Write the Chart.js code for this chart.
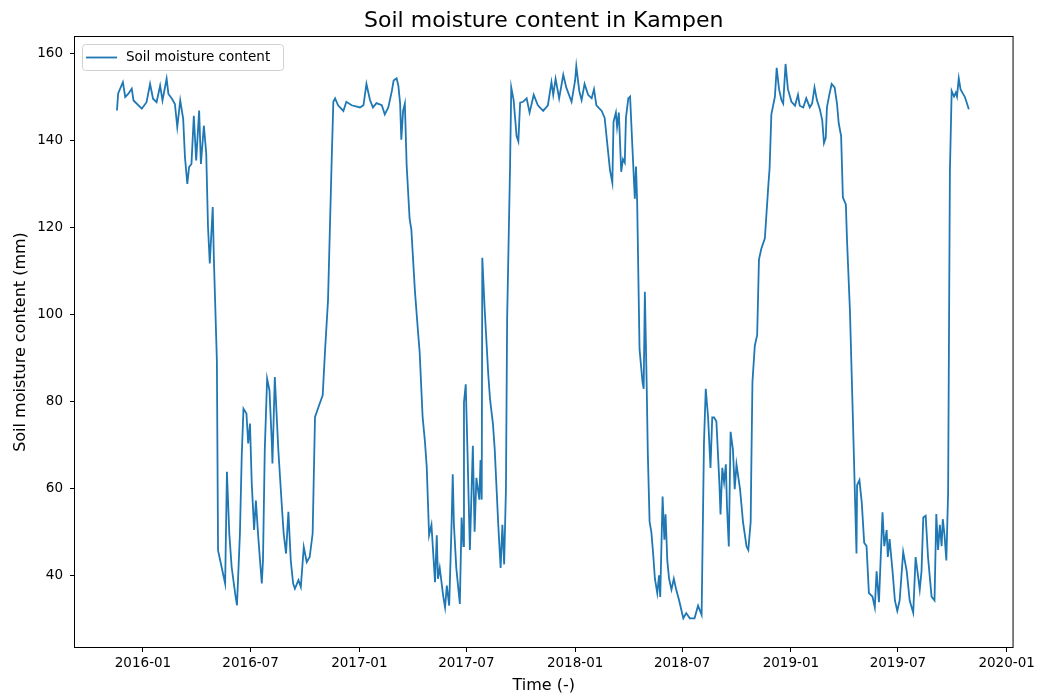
<!DOCTYPE html>
<html><head><meta charset="utf-8">
<script src="https://cdn.jsdelivr.net/npm/chart.js@4.4.1/dist/chart.umd.min.js"></script>
<style>html,body{margin:0;padding:0;background:#fff}#c{display:block}</style>
</head><body>
<canvas id="c" width="1038" height="695"></canvas>
<script>
const chartTitle = 'Soil moisture content in Kampen';
const seriesName = 'Soil moisture content';
const xAxisTitle = 'Time (-)';
const yAxisTitle = 'Soil moisture content (mm)';

const dates = [
'2015-11-18','2015-11-20','2015-11-28','2015-12-02','2015-12-07','2015-12-13','2015-12-16','2015-12-30','2016-01-07','2016-01-13',
'2016-01-18','2016-01-24','2016-01-30','2016-02-03','2016-02-10','2016-02-13','2016-02-19','2016-02-24','2016-02-28','2016-03-04',
'2016-03-09','2016-03-12','2016-03-16','2016-03-19','2016-03-23','2016-03-27','2016-03-31','2016-04-05','2016-04-08','2016-04-13',
'2016-04-17','2016-04-20','2016-04-23','2016-04-28','2016-04-30','2016-05-02','2016-05-05',
'2016-05-07','2016-05-13','2016-05-19','2016-05-22','2016-05-26','2016-05-30','2016-06-05','2016-06-08','2016-06-13','2016-06-16',
'2016-06-19','2016-06-24','2016-06-27','2016-06-30','2016-07-03','2016-07-07','2016-07-10','2016-07-14','2016-07-17','2016-07-20',
'2016-07-22','2016-07-25','2016-07-29','2016-08-02','2016-08-06','2016-08-07','2016-08-11','2016-08-17','2016-08-23','2016-08-26',
'2016-08-30','2016-09-03','2016-09-07','2016-09-11','2016-09-14','2016-09-20','2016-09-24','2016-09-29','2016-10-04','2016-10-09',
'2016-10-14','2016-10-18','2016-10-26','2016-10-31','2016-11-04','2016-11-09','2016-11-15','2016-11-18',
'2016-11-21','2016-11-26','2016-12-05','2016-12-10','2016-12-19','2017-01-02','2017-01-08','2017-01-13','2017-01-19','2017-01-24',
'2017-01-30','2017-02-08','2017-02-13','2017-02-19','2017-02-25','2017-02-28','2017-03-05','2017-03-08','2017-03-11','2017-03-13',
'2017-03-16','2017-03-19','2017-03-22','2017-03-27','2017-03-30','2017-04-05','2017-04-11','2017-04-13','2017-04-18','2017-04-22',
'2017-04-25','2017-04-29','2017-05-03','2017-05-06','2017-05-09','2017-05-12','2017-05-14','2017-05-17','2017-05-23','2017-05-26',
'2017-05-29','2017-06-02','2017-06-06','2017-06-08','2017-06-10','2017-06-14','2017-06-20','2017-06-23','2017-06-26','2017-06-27',
'2017-06-30','2017-07-03','2017-07-07','2017-07-12','2017-07-15','2017-07-18','2017-07-23','2017-07-25','2017-07-27','2017-07-28',
'2017-08-01','2017-08-07','2017-08-10','2017-08-15','2017-08-18','2017-08-24','2017-08-28','2017-08-31','2017-09-03','2017-09-06',
'2017-09-08','2017-09-13','2017-09-15','2017-09-19','2017-09-24','2017-09-27','2017-09-30',
'2017-10-05','2017-10-11','2017-10-16','2017-10-23','2017-10-30','2017-11-08','2017-11-16','2017-11-22','2017-11-25','2017-11-29',
'2017-12-05','2017-12-12','2017-12-17','2017-12-26','2018-01-01','2018-01-03','2018-01-08','2018-01-12','2018-01-17','2018-01-23',
'2018-01-29','2018-02-02','2018-02-06','2018-02-15','2018-02-20','2018-02-24','2018-03-01','2018-03-05','2018-03-07','2018-03-11',
'2018-03-13','2018-03-16','2018-03-20','2018-03-23','2018-03-26','2018-03-28','2018-04-01','2018-04-04','2018-04-08','2018-04-12',
'2018-04-14','2018-04-16','2018-04-20','2018-04-25','2018-04-27','2018-04-29','2018-05-02','2018-05-04','2018-05-07','2018-05-10',
'2018-05-13','2018-05-16','2018-05-20','2018-05-23','2018-05-25','2018-05-29','2018-06-01','2018-06-03','2018-06-06','2018-06-09',
'2018-06-13','2018-06-17','2018-06-21','2018-06-26','2018-07-03','2018-07-08','2018-07-14','2018-07-22','2018-07-28','2018-08-03',
'2018-08-07','2018-08-10','2018-08-14','2018-08-18','2018-08-21','2018-08-24','2018-08-28','2018-09-02','2018-09-04','2018-09-07',
'2018-09-10','2018-09-13','2018-09-15','2018-09-18','2018-09-21','2018-09-25','2018-09-28','2018-10-01','2018-10-07','2018-10-12',
'2018-10-18','2018-10-21','2018-10-25','2018-10-26','2018-10-28','2018-11-01','2018-11-05','2018-11-08','2018-11-12','2018-11-18',
'2018-11-24',
'2018-11-26','2018-11-29','2018-12-05','2018-12-08','2018-12-12','2018-12-16','2018-12-19','2018-12-23','2018-12-27','2019-01-02',
'2019-01-08','2019-01-13','2019-01-16','2019-01-22','2019-01-27','2019-02-02','2019-02-06','2019-02-10','2019-02-14','2019-02-19',
'2019-02-23','2019-02-26','2019-03-01','2019-03-03','2019-03-07','2019-03-11','2019-03-16','2019-03-20','2019-03-23','2019-03-27',
'2019-03-30','2019-04-04','2019-04-06','2019-04-11','2019-04-16','2019-04-22','2019-04-23','2019-04-27','2019-05-01','2019-05-05',
'2019-05-09','2019-05-13','2019-05-19','2019-05-23','2019-05-26','2019-05-30','2019-06-05','2019-06-08','2019-06-12','2019-06-14',
'2019-06-17','2019-06-22','2019-06-26','2019-06-30','2019-07-04','2019-07-10','2019-07-16','2019-07-21','2019-07-27','2019-07-31',
'2019-08-04','2019-08-07','2019-08-10','2019-08-13','2019-08-17','2019-08-21','2019-08-27','2019-09-01','2019-09-04','2019-09-07',
'2019-09-10','2019-09-13','2019-09-15','2019-09-18','2019-09-21','2019-09-24','2019-09-27','2019-09-30','2019-10-04','2019-10-07',
'2019-10-09','2019-10-12','2019-10-15','2019-10-18','2019-10-22','2019-10-25','2019-10-29'
];

const moisture = [
146.9,150.8,153.4,150.0,150.7,151.9,149.2,147.3,148.8,153.0,
149.6,148.8,152.6,149.2,154.2,150.7,149.6,148.4,143.1,149.2,
145.0,136.2,130.0,133.9,134.6,145.7,135.4,146.9,134.6,143.4,
137.0,120.1,111.7,124.7,112.4,103.2,89.4,
45.7,41.9,38.1,63.8,49.6,41.9,35.7,33.1,49.6,67.2,
78.3,77.2,70.3,74.9,61.1,50.4,57.2,48.8,43.4,38.1,
43.4,68.7,85.2,82.5,70.3,65.7,85.6,68.7,55.7,49.6,
45.0,54.6,43.4,38.1,36.9,38.9,37.3,46.5,43.0,44.2,
49.6,76.4,79.5,81.4,91.7,103.2,134.4,148.9,
149.7,148.1,146.8,148.9,148.1,147.6,148.1,153.0,149.3,147.6,
148.6,148.1,146.0,147.6,151.4,153.8,154.3,152.6,148.5,140.2,
146.8,148.5,134.4,122.0,119.5,105.4,94.7,91.4,76.5,70.7,
64.9,49.2,51.6,45.0,38.4,49.2,39.2,41.7,35.1,32.6,
37.6,33.0,51.6,63.2,51.6,41.7,33.4,53.3,46.7,79.8,
83.9,68.2,45.8,69.8,50.0,62.4,57.4,66.5,57.4,113.0,
101.3,86.4,80.6,74.8,69.0,51.6,41.7,51.6,42.5,59.9,
98.8,134.4,152.2,149.3,141.0,139.8,148.7,
148.9,149.7,146.4,150.5,148.1,146.8,148.1,153.4,150.5,154.2,
149.7,155.1,152.2,148.9,153.8,157.1,151.4,149.3,153.0,150.5,
149.7,151.8,148.1,146.8,145.2,139.8,133.2,130.3,144.3,146.4,
143.1,146.4,132.8,135.7,134.9,145.2,149.7,150.1,138.2,126.6,
134.0,125.8,92.0,84.5,82.9,105.2,84.5,68.0,52.3,49.9,
45.0,39.2,35.9,40.0,35.0,58.1,48.2,54.0,43.3,39.2,
36.7,39.2,36.7,34.2,30.1,31.3,30.1,30.1,33.0,30.9,
70.5,82.9,76.3,64.7,76.3,76.3,75.4,61.4,54.0,64.7,
61.4,65.5,55.6,46.6,73.0,68.9,59.8,65.5,59.8,52.3,
46.6,45.8,52.3,63.9,84.5,92.8,95.3,112.6,115.1,117.5,
129.9,
133.6,146.0,150.1,156.7,151.8,149.3,148.5,157.6,151.8,148.9,
148.0,150.5,148.0,147.6,149.7,147.6,148.5,152.2,149.3,147.2,
144.7,139.4,140.6,147.6,150.5,153.0,152.2,148.5,143.9,141.0,
126.9,125.3,117.0,100.5,75.6,45.0,60.7,61.9,56.6,47.5,
46.7,35.9,35.1,32.6,40.9,33.8,54.5,46.7,50.4,44.2,
48.3,40.9,34.2,31.8,34.2,45.4,40.9,34.2,31.4,44.2,
40.0,36.7,40.9,53.3,53.7,44.2,35.1,34.2,54.1,45.8,
51.6,46.7,52.9,49.1,43.4,59.1,132.7,151.4,150.1,151.0,
150.1,154.3,151.8,151.0,150.1,148.9,147.2
];

const xTickLabels = ['2016-01','2016-07','2017-01','2017-07','2018-01','2018-07','2019-01','2019-07','2020-01'];
const yTickValues = [40,60,80,100,120,140,160];
const xRange = ['2015-09-08','2020-01-11'];
const yRange = [23.5,163.8];

const DAY = 86400000;
const toDay = s => { const p = s.split('-').map(Number); return Date.UTC(p[0], p[1]-1, p[2] || 1) / DAY; };
const fmtMonth = v => { const d = new Date(Math.round(v) * DAY); return d.getUTCFullYear() + '-' + String(d.getUTCMonth()+1).padStart(2,'0'); };

const points = dates.map((d,i) => ({x: toDay(d), y: moisture[i]}));
const FONT = "'DejaVu Sans', 'Liberation Sans', sans-serif";
const LINE = '#1f77b4';

const decor = {
  id: 'decor',
  afterDraw(chart) {
    const ctx = chart.ctx, a = chart.chartArea;
    ctx.save();
    // frame
    ctx.strokeStyle = '#000'; ctx.lineWidth = 1;
    ctx.strokeRect(a.left - 0.5, a.top - 0.5, a.right - a.left + 1, a.bottom - a.top + 1);
    ctx.fillStyle = '#000';
    // title
    ctx.font = '22px ' + FONT; ctx.textAlign = 'center'; ctx.textBaseline = 'alphabetic';
    ctx.fillText(chartTitle, (a.left + a.right) / 2, 27);
    // x title
    ctx.font = '16px ' + FONT;
    ctx.fillText(xAxisTitle, (a.left + a.right) / 2, 690);
    // y title
    ctx.save();
    ctx.translate(25, (a.top + a.bottom) / 2);
    ctx.rotate(-Math.PI / 2);
    ctx.fillText(yAxisTitle, 0, 0);
    ctx.restore();
    // legend
    const lx = a.left + 7, ly = a.top + 7, lw = 201, lh = 26;
    ctx.beginPath();
    ctx.roundRect(lx + 0.5, ly + 0.5, lw, lh, 3);
    ctx.fillStyle = 'rgba(255,255,255,0.8)'; ctx.fill();
    ctx.strokeStyle = '#d0d0d0'; ctx.lineWidth = 1; ctx.stroke();
    const cy = ly + lh / 2 + 0.5;
    ctx.beginPath(); ctx.moveTo(lx + 4, cy); ctx.lineTo(lx + 35, cy);
    ctx.strokeStyle = LINE; ctx.lineWidth = 1.8; ctx.stroke();
    ctx.fillStyle = '#000'; ctx.font = '13.5px ' + FONT; ctx.textAlign = 'left'; ctx.textBaseline = 'middle';
    ctx.fillText(seriesName, lx + 44, cy);
    ctx.restore();
  }
};

new Chart(document.getElementById('c'), {
  type: 'line',
  data: { datasets: [{ label: seriesName, data: points, borderColor: LINE, borderWidth: 1.8, pointRadius: 0, tension: 0, fill: false }] },
  options: {
    responsive: false, animation: false, devicePixelRatio: 1,
    layout: { padding: { left: 0, top: 37, right: 25, bottom: 0 } },
    plugins: { legend: { display: false }, title: { display: false }, tooltip: { enabled: false } },
    scales: {
      x: {
        type: 'linear', min: toDay(xRange[0]), max: toDay(xRange[1]),
        afterFit: s => { s.height = 48; },
        afterBuildTicks: s => { s.ticks = xTickLabels.map(l => ({ value: toDay(l + '-01') })); },
        ticks: { callback: v => fmtMonth(v), font: { family: FONT, size: 13.5 }, color: '#000', padding: 3, maxRotation: 0, autoSkip: false },
        grid: { display: true, drawOnChartArea: false, drawTicks: true, tickLength: 5, tickColor: '#000' },
        border: { display: false }
      },
      y: {
        min: yRange[0], max: yRange[1],
        afterFit: s => { s.width = 75; },
        afterBuildTicks: s => { s.ticks = yTickValues.map(v => ({ value: v })); },
        ticks: { callback: v => String(v), font: { family: FONT, size: 13.5 }, color: '#000', padding: 7, autoSkip: false },
        grid: { display: true, drawOnChartArea: false, drawTicks: true, tickLength: 5, tickColor: '#000' },
        border: { display: false }
      }
    }
  },
  plugins: [decor]
});
</script>
</body></html>
